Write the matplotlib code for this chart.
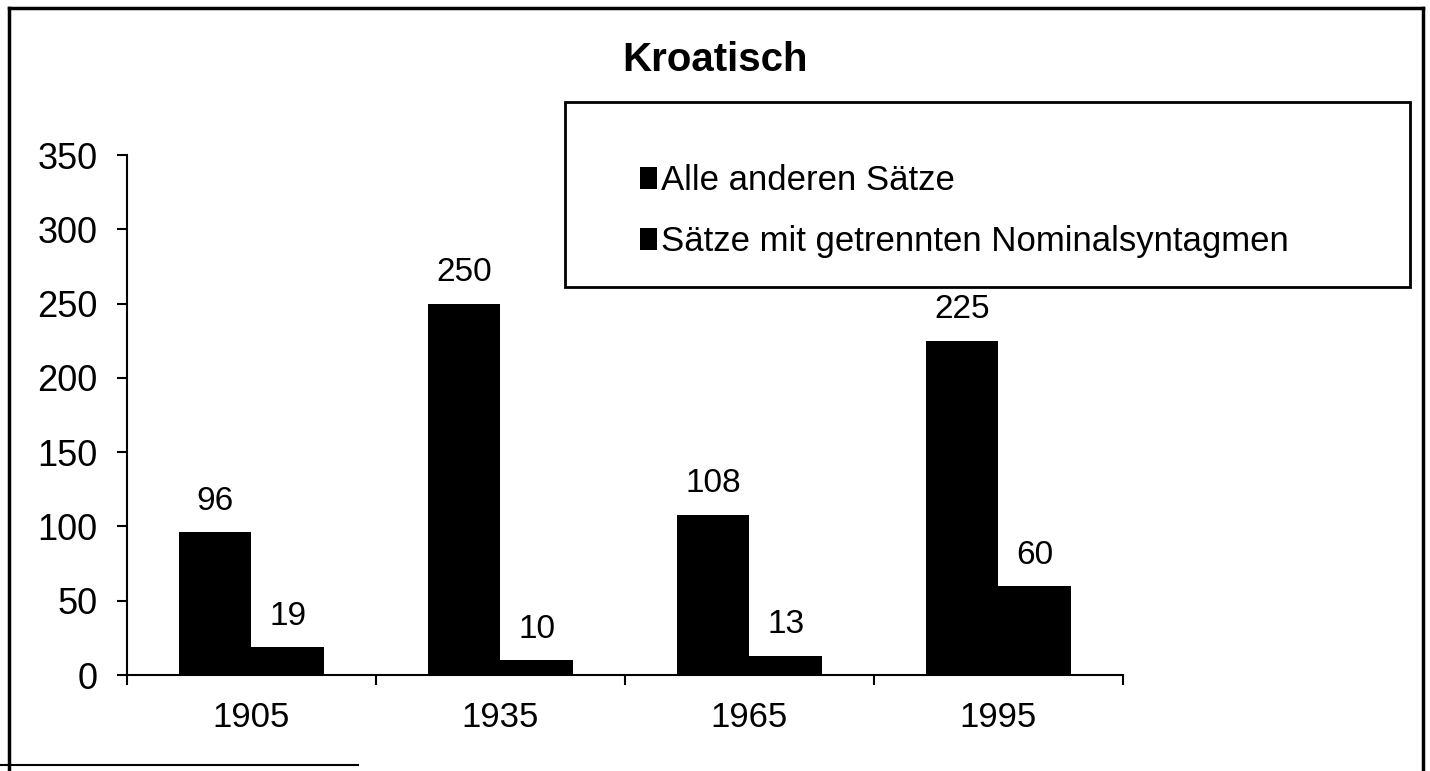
import numpy as np
import matplotlib.pyplot as plt
from matplotlib.patches import Rectangle
from matplotlib.lines import Line2D

plt.rcParams["font.family"] = ["Liberation Sans", "DejaVu Sans"]

# Daten
jahre = ["1905", "1935", "1965", "1995"]
alle_anderen = [96, 250, 108, 225]
getrennt = [19, 10, 13, 60]
serien = ["Alle anderen Sätze", "Sätze mit getrennten Nominalsyntagmen"]

fig = plt.figure(figsize=(14.3, 7.71), dpi=100)
ax = fig.add_axes([0.0888, 0.1245, 0.6965, 0.6744])

x = np.arange(len(jahre))
w = 0.29
b1 = ax.bar(x - w / 2, alle_anderen, w, color="black", label=serien[0])
b2 = ax.bar(x + w / 2, getrennt, w, color="black", label=serien[1])

for bars in (b1, b2):
    for r in bars:
        ax.annotate(f"{r.get_height():.0f}", (r.get_x() + r.get_width() / 2, r.get_height()),
                    xytext=(0, 11), textcoords="offset points",
                    ha="center", va="bottom", fontsize=24)

ax.set_xlim(-0.5, len(jahre) - 0.5)
ax.set_ylim(0, 350)
ax.set_yticks(np.arange(0, 351, 50))
ax.set_xticks(x)
ax.set_xticklabels(jahre)
ax.set_xticks(np.arange(-0.5, len(jahre)), minor=True)
ax.tick_params(axis="x", which="major", length=0, pad=19, labelsize=25)
ax.tick_params(axis="x", which="minor", length=7, width=1.5, direction="out")
ax.tick_params(axis="y", length=7, width=1.5, pad=14, labelsize=26)

for s in ("top", "right"):
    ax.spines[s].set_visible(False)
for s in ("left", "bottom"):
    ax.spines[s].set_linewidth(1.5)

fig.text(0.5, 0.922, "Kroatisch", ha="center", va="center", fontsize=29, fontweight="bold")

# Legende
fig.patches.append(Rectangle((0.395, 0.628), 0.591, 0.24, transform=fig.transFigure,
                             fill=False, edgecolor="black", linewidth=2))
fig.legend(handles=[b1, b2], labels=serien, loc="upper left",
           bbox_to_anchor=(0.4475, 0.787), frameon=False, fontsize=25,
           borderpad=0, handlelength=0.5, handleheight=0.6, handletextpad=0.12,
           labelspacing=0.8, borderaxespad=0)

# Rahmen
rahmen = dict(color="black", linewidth=2.5, transform=fig.transFigure)
fig.lines.append(Line2D([0.006, 0.006], [0.0, 0.99], **rahmen))
fig.lines.append(Line2D([0.006, 0.995], [0.99, 0.99], **rahmen))
fig.lines.append(Line2D([0.995, 0.995], [0.0, 0.99], **rahmen))
fig.lines.append(Line2D([0.0, 0.25], [0.008, 0.008], color="black", linewidth=1.5,
                        transform=fig.transFigure))

fig.savefig("out.png", dpi=100)
